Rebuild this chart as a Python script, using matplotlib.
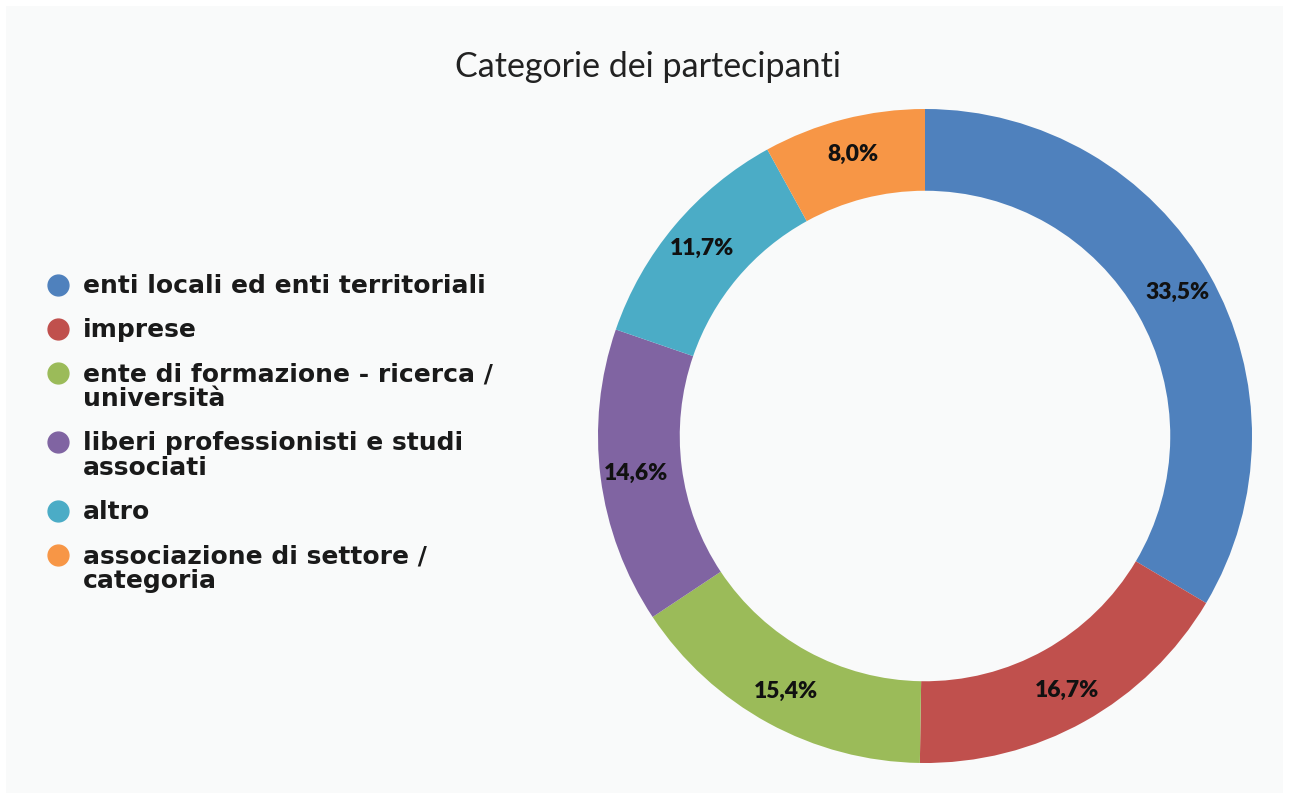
import matplotlib.pyplot as plt
from matplotlib.patches import Rectangle

# data
categories = [
    "enti locali ed enti territoriali",
    "imprese",
    "ente di formazione - ricerca /\nuniversità",
    "liberi professionisti e studi\nassociati",
    "altro",
    "associazione di settore /\ncategoria",
]
shares = [33.5, 16.7, 15.4, 14.6, 11.7, 8.0]
colors = ["#4F81BD", "#C0504D", "#9BBB59", "#8064A2", "#4BACC6", "#F79646"]
title = "Categorie dei partecipanti"

W, H = 1289, 799
fig = plt.figure(figsize=(W / 100, H / 100), dpi=100, facecolor="white")
bg = Rectangle((6 / W, 6 / H), 1 - 12 / W, 1 - 12 / H, transform=fig.transFigure,
               facecolor="#f9fafa", edgecolor="none", zorder=-10)
fig.add_artist(bg)

# donut: centre and radius in pixels
cx, cy, R = 925, 436, 327
half = R * 1.05
ax = fig.add_axes([(cx - half) / W, (H - cy - half) / H, 2 * half / W, 2 * half / H])
ax.set_facecolor("none")
wedges, _, autotexts = ax.pie(
    shares, colors=colors, startangle=90, counterclock=False, radius=1,
    wedgeprops=dict(width=0.25, edgecolor="none"),
    autopct=lambda p: "", pctdistance=0.89,
)
for t, v in zip(autotexts, shares):
    t.set_text(f"{v:.1f}%".replace(".", ","))
    t.set_fontfamily("Lato")
    t.set_fontweight("heavy")
    t.set_fontsize(16.5)
    t.set_color("#111111")
ax.set_xlim(-1.05, 1.05)
ax.set_ylim(-1.05, 1.05)
ax.set_aspect("equal")
ax.axis("off")

fig.text(648 / W, 1 - 67 / H, title, ha="center", va="center",
         fontsize=24.5, family="Lato", color="#222222")

# legend drawn by hand, one text per line so the marker sits on the first line
y = 285
line_h = 25
item_gap = 44
for lab, col in zip(categories, colors):
    fig.add_artist(plt.Line2D([58 / W], [1 - y / H], marker="o", markersize=15,
                              color=col, linestyle="none", transform=fig.transFigure))
    lines = lab.split("\n")
    for i, ln in enumerate(lines):
        fig.text(83 / W, 1 - (y + 8 + i * line_h) / H, ln, ha="left", va="baseline",
                 fontsize=18, family="DejaVu Sans", fontweight="bold", color="#1a1a1a")
    y += item_gap + (len(lines) - 1) * line_h

fig.savefig("out.png", dpi=100, facecolor=fig.get_facecolor())
